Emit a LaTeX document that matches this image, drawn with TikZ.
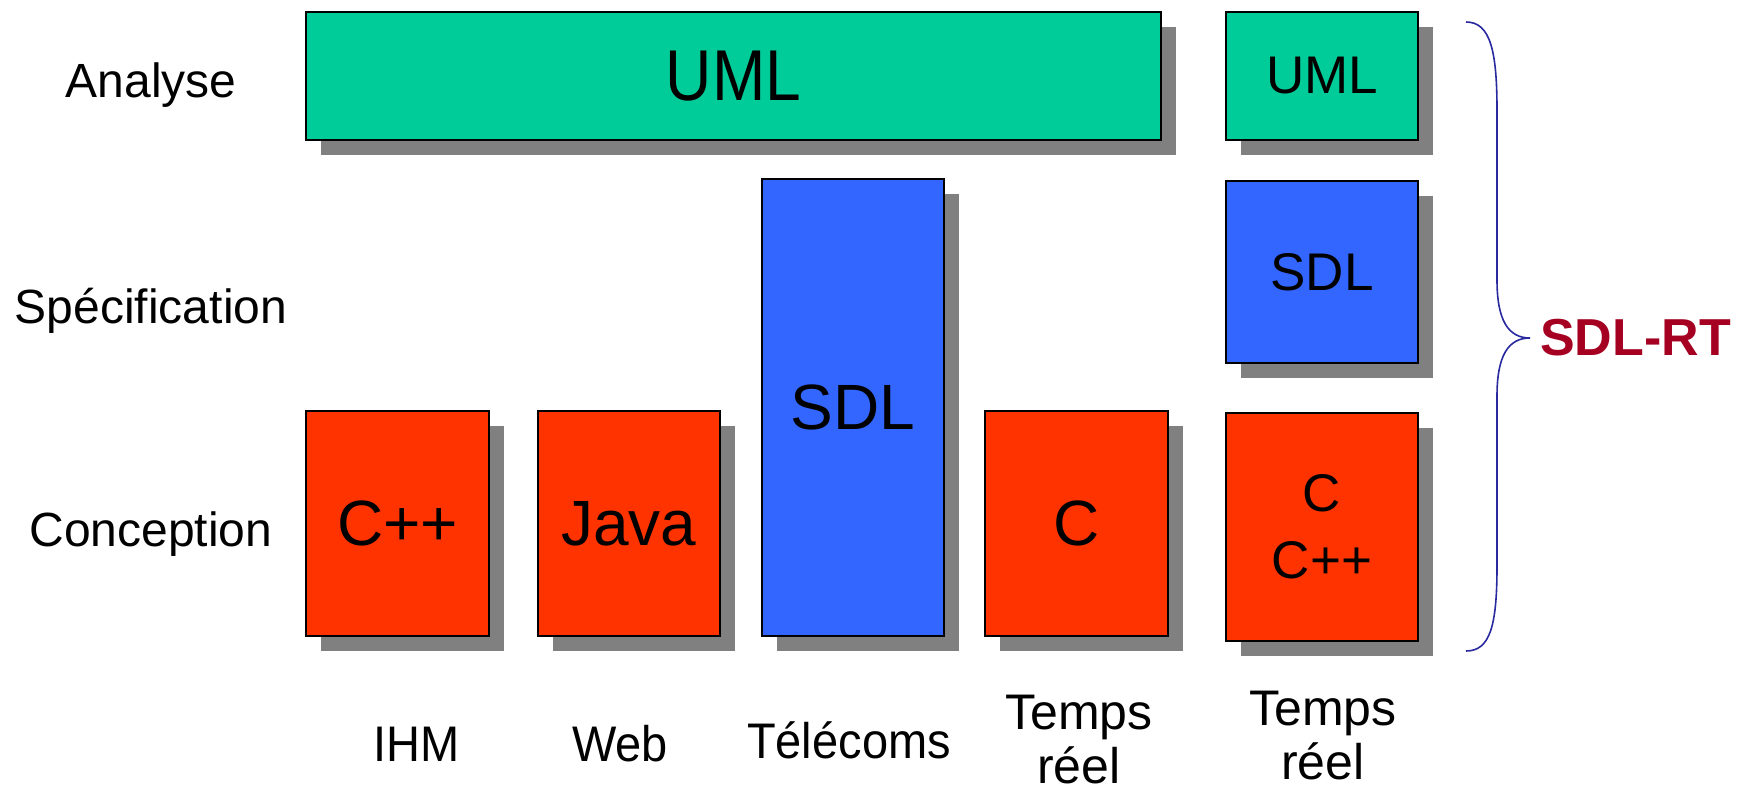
\documentclass[tikz,border=0pt]{standalone}
\usepackage{fontspec}
\setmainfont{Liberation Sans}
\usetikzlibrary{shadows}

\definecolor{vertUML}{HTML}{00CC99}
\definecolor{bleuSDL}{HTML}{3366FF}
\definecolor{rougeCode}{HTML}{FF3300}
\definecolor{ombre}{HTML}{808080}
\definecolor{bleuAcc}{HTML}{2A2AA0}
\definecolor{rougeRT}{HTML}{A50021}

\newcommand{\serre}[2][0.9]{\scalebox{#1}[1]{#2}}

\tikzset{
  bloc/.style={draw=black, line width=2pt, fill=#1, inner sep=0pt,
    general shadow={fill=ombre, shadow xshift=15pt, shadow yshift=-15pt}},
  grand/.style={font=\fontsize{72}{78}\selectfont},
  moyen/.style={font=\fontsize{64}{70}\selectfont},
  petit/.style={font=\fontsize{53}{67}\selectfont, align=center},
  etiq/.style={font=\fontsize{48}{56}\selectfont, align=center},
  domaine/.style={font=\fontsize{50}{54}\selectfont, align=center, inner sep=1pt}
}

\begin{document}
\begin{tikzpicture}[x=1pt,y=-1pt]
  \useasboundingbox (0,0) rectangle (1751,789);
  % Phases
  \node[etiq] (analyse) at (151,85) {Analyse};
  \node[etiq] (specif) at (151,311) {Spécification};
  \node[etiq] (concep) at (151,534) {Conception};
  % Analyse
  \node[bloc=vertUML, grand, minimum width=855, minimum height=128] (umlA) at (733.5,76) {\serre[0.89]{UML}};
  \node[bloc=vertUML, petit, minimum width=192, minimum height=128] (umlB) at (1322,76) {UML};
  % Specification
  \node[bloc=bleuSDL, moyen, minimum width=182, minimum height=457] (sdlA) at (853,407.5) {SDL};
  \node[bloc=bleuSDL, petit, minimum width=192, minimum height=182] (sdlB) at (1322,272) {SDL};
  % Conception
  \node[bloc=rougeCode, moyen, minimum width=183, minimum height=225] (cpp) at (397.5,523.5) {C++};
  \node[bloc=rougeCode, moyen, minimum width=182, minimum height=225] (java) at (629,523.5) {Java};
  \node[bloc=rougeCode, moyen, minimum width=183, minimum height=225] (c) at (1076.5,523.5) {C};
  \node[bloc=rougeCode, petit, minimum width=192, minimum height=228] (cB) at (1322,527) {C\\C++};
  % Domaines
  \node[domaine] (ihm) at (417,744) {\serre[0.94]{IHM}};
  \node[domaine] (web) at (620,744) {\serre[0.94]{Web}};
  \node[domaine] (telecom) at (849,740) {\serre[0.94]{Télécoms}};
  \node[domaine] (tempsA) at (1079,740) {Temps\\réel};
  \node[domaine] (tempsB) at (1323,736) {Temps\\réel};
  % Accolade
  \coordinate (accHaut) at (1466,22);
  \coordinate (accPointe) at (1530,338);
  \coordinate (accBas) at (1466,651);
  \draw[bleuAcc, line width=1.6pt]
    (accHaut) .. controls (1490,22) and (1497,50) .. (1497,110) -- (1497,280)
    .. controls (1497,320) and (1508,338) .. (accPointe)
    .. controls (1508,338) and (1497,356) .. (1497,396) -- (1497,566)
    .. controls (1497,626) and (1490,651) .. (accBas);
  \node[anchor=west, text=rougeRT, font=\fontsize{52}{60}\selectfont\bfseries, inner sep=0pt] (rt) at (1540,338) {SDL-RT};
\end{tikzpicture}
\end{document}
